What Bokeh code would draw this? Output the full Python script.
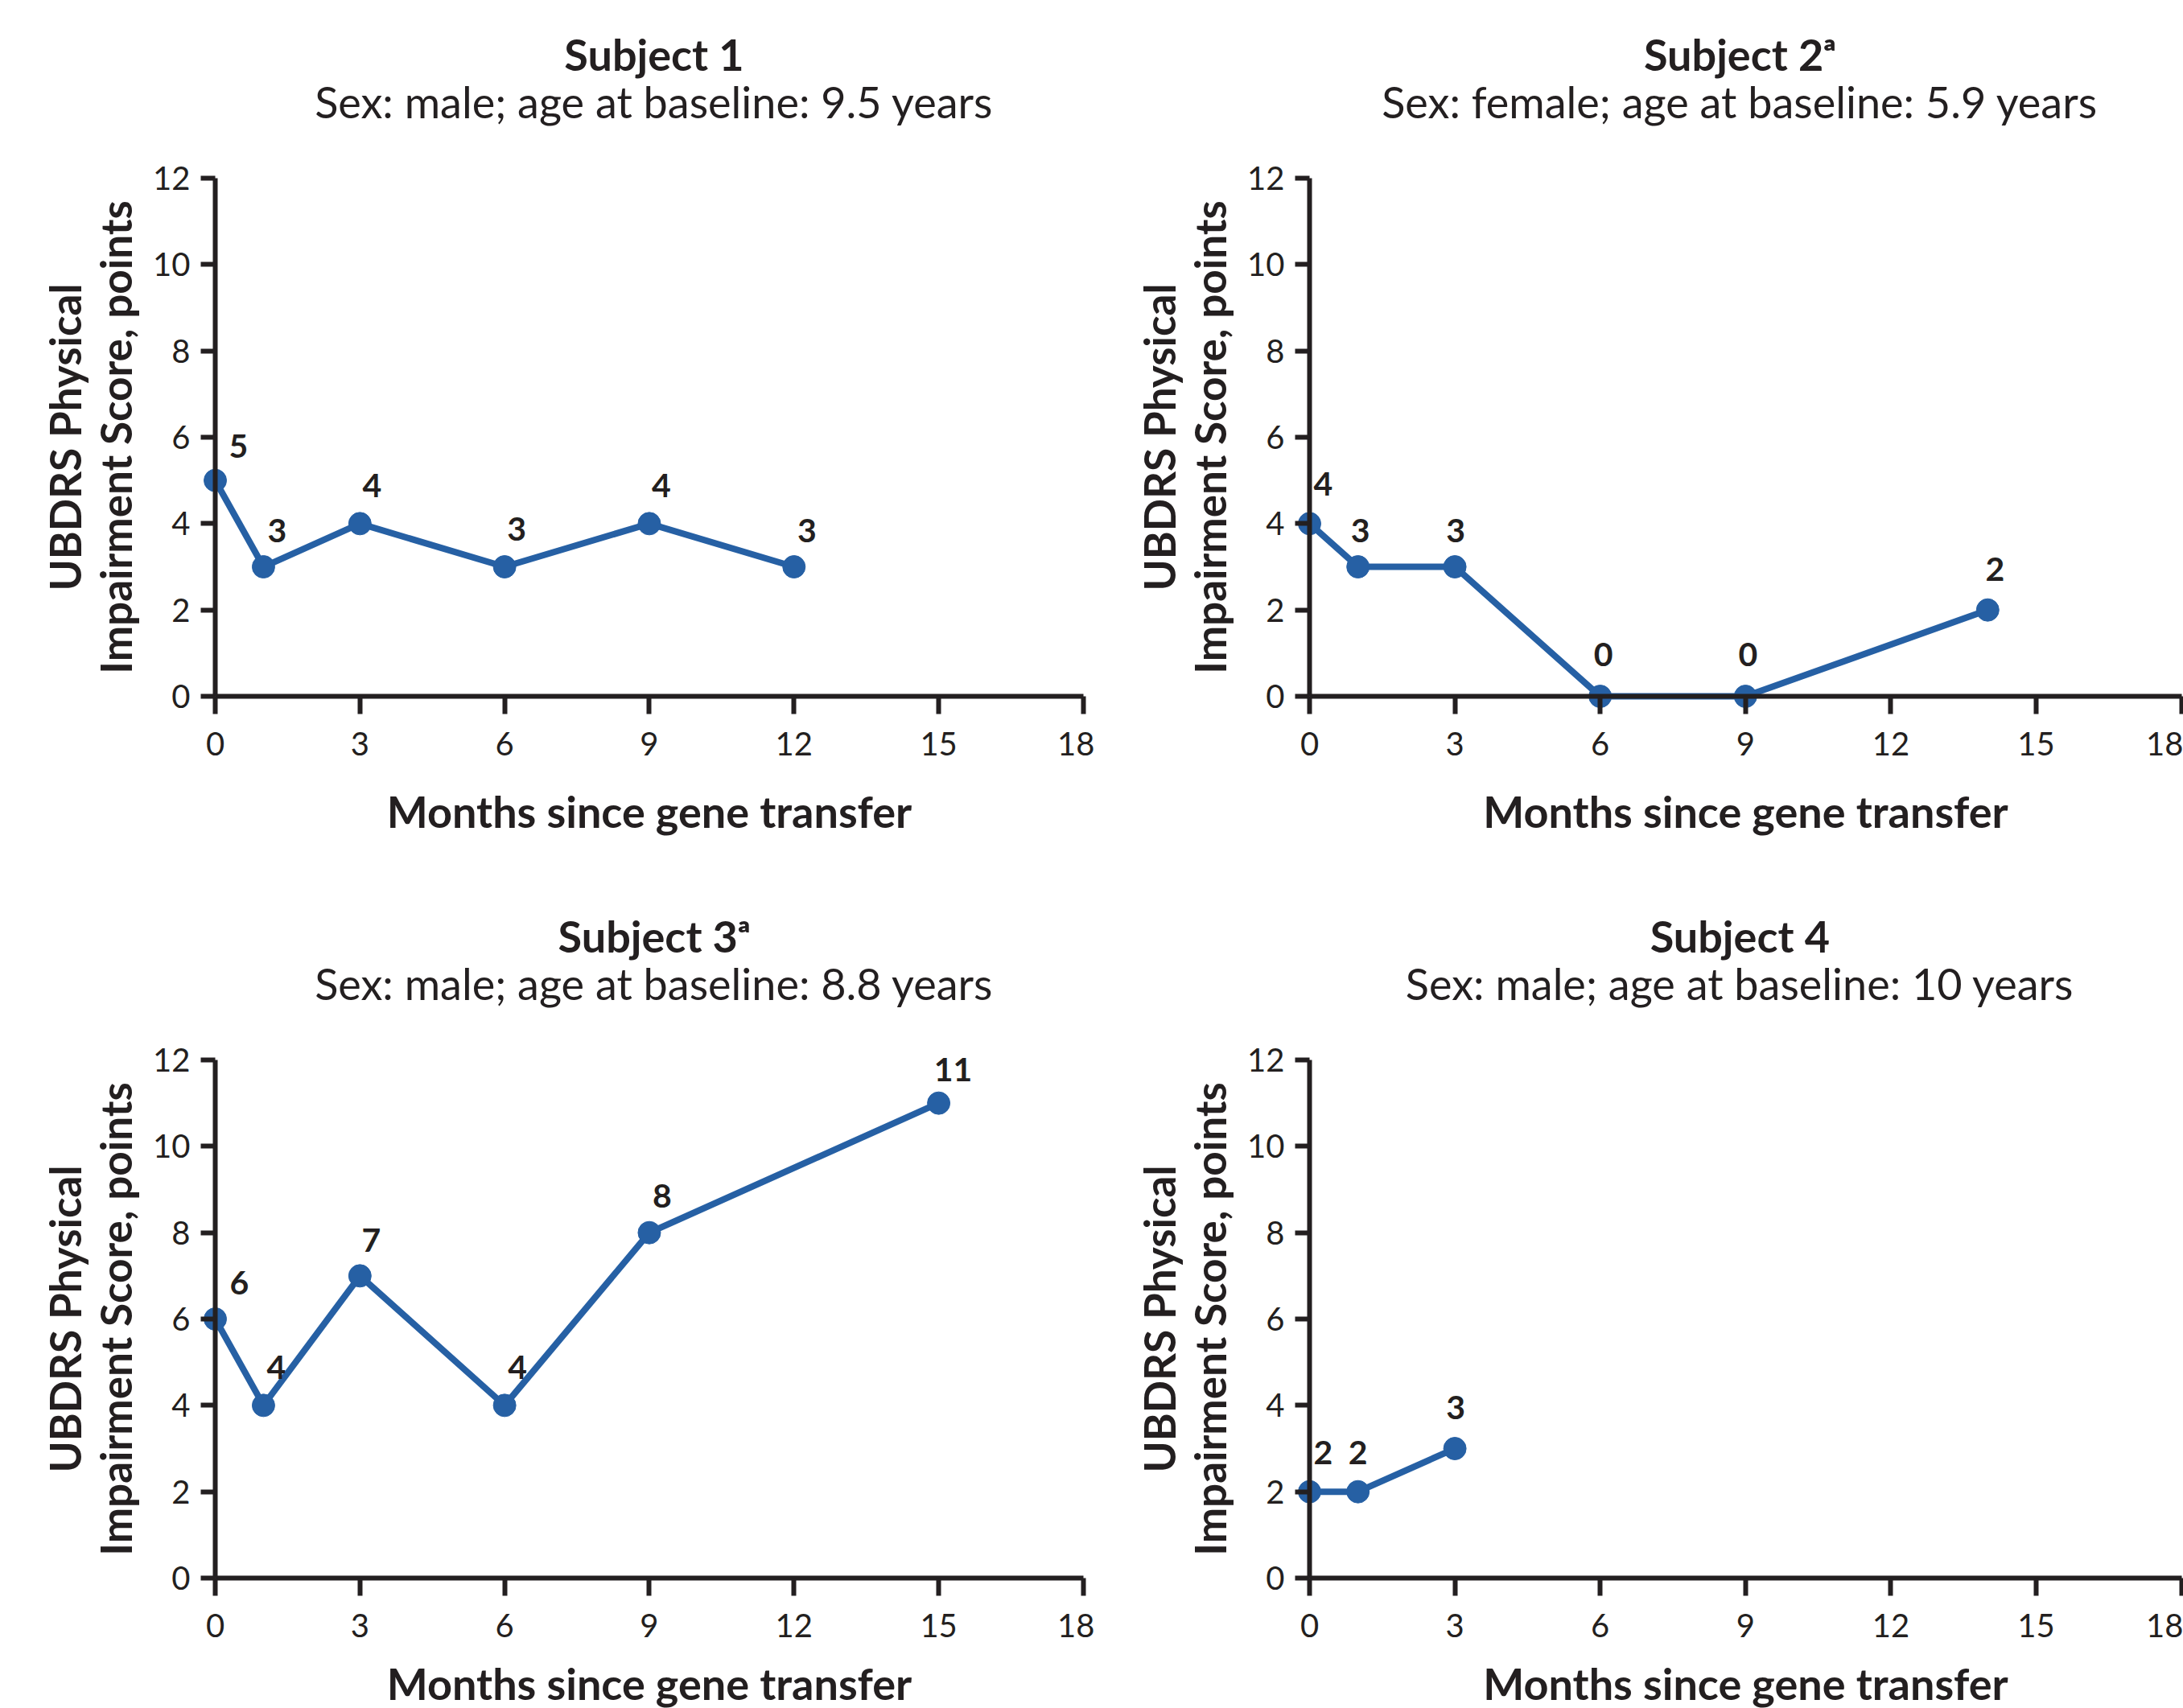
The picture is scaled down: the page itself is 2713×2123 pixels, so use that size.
from bokeh.plotting import figure
from bokeh.models import Range1d, FixedTicker, Label, ColumnDataSource
from bokeh.layouts import column, row
from bokeh.embed import file_html
from bokeh.resources import INLINE

# ---------------- data ----------------
titles = ["Subject 1", "Subject 2\u1d43", "Subject 3\u1d43", "Subject 4"]
subtitles = [
    "Sex: male; age at baseline: 9.5 years",
    "Sex: female; age at baseline: 5.9 years",
    "Sex: male; age at baseline: 8.8 years",
    "Sex: male; age at baseline: 10 years",
]
s1_months = [0, 1, 3, 6, 9, 12]
s1_scores = [5, 3, 4, 3, 4, 3]
s2_months = [0, 1, 3, 6, 9, 14]
s2_scores = [4, 3, 3, 0, 0, 2]
s3_months = [0, 1, 3, 6, 9, 15]
s3_scores = [6, 4, 7, 4, 8, 11]
s4_months = [0, 1, 3]
s4_scores = [2, 2, 3]
x_ticks = [0, 3, 6, 9, 12, 15, 18]
y_ticks = [0, 2, 4, 6, 8, 10, 12]
x_label = "Months since gene transfer"
y_label = "UBDRS Physical\nImpairment Score, points"

# label offsets (screen px, styling only)
lab_dx = [[29, 17, 15, 15, 15, 16], [17, 3, 1, 4, 3, 9],
          [30, 16, 14, 16, 16, 18], [17, 0, 1]]
lab_dy = [[-43, -45, -47, -47, -47, -45], [-49, -45, -45, -52, -52, -51],
          [-45, -47, -44, -47, -46, -42], [-49, -49, -51]]

months = [s1_months, s2_months, s3_months, s4_months]
scores = [s1_scores, s2_scores, s3_scores, s4_scores]

BLUE = "#2660a4"
INK = "#231f20"
FONT = "Lato"

# ---------------- geometry (screen px) ----------------
FIG_W = [1360, 1353]          # left / right column
FIG_H = [1096, 1027]          # top / bottom row
X0_PX = 267                   # x = 0 from figure left
Y12_PX = 221                  # y = 12 from figure top
PX_X = [59.94, 60.2]          # px per month
PX_Y = 53.67                  # px per point
TITLE_DX = [6, -7]
TITLE_BASE = 66.5             # anchor of main title from fig top
SUB_BASE = 126.0              # anchor of subtitle from fig top
XLABEL_STANDOFF = [34, 22]    # top / bottom row


def make_panel(i):
    c = i % 2
    r = i // 2
    w, h = FIG_W[c], FIG_H[r]
    sx = PX_X[c]
    x_min = -X0_PX / sx
    x_max = (w - X0_PX) / sx
    y_top = 12 + Y12_PX / PX_Y
    y_min = 12 - (h - Y12_PX) / PX_Y

    p = figure(
        width=w, height=h,
        x_range=Range1d(x_min, x_max), y_range=Range1d(y_min, y_top),
        min_border_left=0, min_border_top=0,
        min_border_right=0, min_border_bottom=0,
        output_backend="svg", toolbar_location=None,
    )
    p.outline_line_color = None
    p.xgrid.visible = False
    p.ygrid.visible = False
    p.background_fill_color = "white"
    p.border_fill_color = "white"

    # axes, drawn at x = 0 / y = 0 inside the frame
    for ax in (p.xaxis[0], p.yaxis[0]):
        ax.fixed_location = 0
        ax.axis_line_color = INK
        ax.axis_line_width = 6
        ax.major_tick_line_color = INK
        ax.major_tick_line_width = 6
        ax.major_tick_in = 0
        ax.minor_tick_line_color = None
        ax.major_label_text_font = FONT
        ax.major_label_text_font_size = "40px"
        ax.major_label_text_color = INK
        ax.axis_label_text_font = FONT
        ax.axis_label_text_font_style = "bold"
        ax.axis_label_text_color = INK
    xa, ya = p.xaxis[0], p.yaxis[0]
    xa.bounds = (0, 18)
    ya.bounds = (0, 12)
    xa.ticker = FixedTicker(ticks=x_ticks)
    ya.ticker = FixedTicker(ticks=y_ticks)
    xa.major_tick_out = 22
    ya.major_tick_out = 18
    xa.major_label_standoff = 22
    ya.major_label_standoff = 13
    xa.axis_label = x_label
    ya.axis_label = y_label
    xa.axis_label_text_font_size = "54px"
    ya.axis_label_text_font_size = "53px"
    ya.axis_label_text_line_height = 1.0
    xa.axis_label_standoff = XLABEL_STANDOFF[r]
    ya.axis_label_standoff = 12

    # titles
    y_main = 12 + (Y12_PX - TITLE_BASE) / PX_Y
    y_sub = 12 + (Y12_PX - SUB_BASE) / PX_Y
    p.add_layout(Label(x=9, y=y_main, x_offset=TITLE_DX[c], text=titles[i],
                       text_align="center", text_baseline="alphabetic",
                       text_font=FONT, text_font_style="bold",
                       text_font_size="54px", text_color=INK))
    p.add_layout(Label(x=9, y=y_sub, x_offset=TITLE_DX[c], text=subtitles[i],
                       text_align="center", text_baseline="alphabetic",
                       text_font=FONT, text_font_style="normal",
                       text_font_size="54px", text_color=INK))

    src = ColumnDataSource(dict(
        x=months[i], y=scores[i], lab=[str(v) for v in scores[i]],
        dx=lab_dx[i], dy=lab_dy[i],
    ))
    p.line("x", "y", source=src, line_color=BLUE, line_width=8)
    p.scatter("x", "y", source=src, size=28, fill_color=BLUE, line_color=BLUE)
    p.text("x", "y", text="lab", source=src, x_offset="dx", y_offset="dy",
           text_align="center", text_baseline="middle",
           text_font={"value": FONT}, text_font_style="bold",
           text_font_size="41px", text_color=INK)
    return p


panels = [make_panel(i) for i in range(4)]
layout = column(row(panels[0], panels[1]), row(panels[2], panels[3]))

with open("out.html", "w") as f:
    f.write(file_html(layout, INLINE))
